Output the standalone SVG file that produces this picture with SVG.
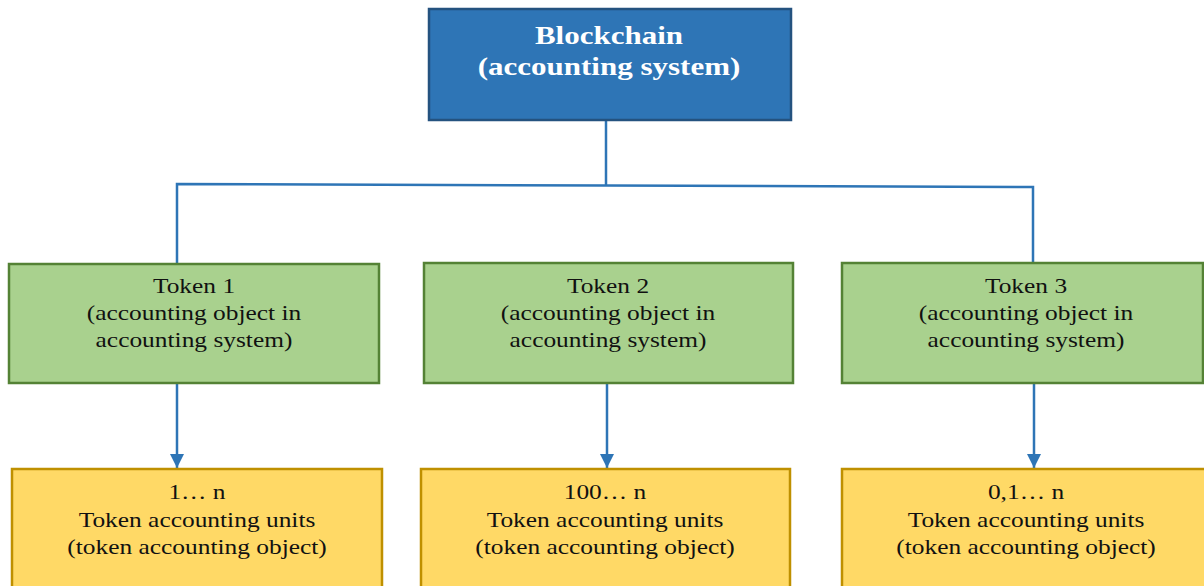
<svg xmlns="http://www.w3.org/2000/svg" width="1204" height="586" viewBox="0 0 1204 586">
  <style>
    .root rect { fill: #2E75B6; stroke: #24527F; stroke-width: 2.5; }
    .token rect { fill: #A9D18E; stroke: #548235; stroke-width: 2.5; }
    .unit rect { fill: #FFD966; stroke: #BF9000; stroke-width: 2.5; }
    text { font-family: "Liberation Serif", "Times New Roman", serif; text-anchor: middle; }
    .root text { font-size: 25px; font-weight: bold; fill: #FFFFFF; }
    .token text, .unit text { font-size: 20.5px; fill: #111111; }
    .wire { fill: none; stroke: #2E75B6; stroke-width: 2.5; }
  </style>
  <defs>
    <marker id="arrow" markerUnits="userSpaceOnUse" markerWidth="16" markerHeight="16" refX="14" refY="8" orient="auto">
      <path d="M0,1 L14,8 L0,15 Z" fill="#2E75B6"/>
    </marker>
  </defs>
  <rect width="1204" height="586" fill="#FFFFFF"/>

  <!-- connectors -->
  <g id="connectors">
    <path class="wire" d="M606,120 L606,186"/>
    <path class="wire" d="M177,264 L177,184 L606,185.5 L1033,187 L1033,263"/>
    <path class="wire" d="M177,383 L177,468" marker-end="url(#arrow)"/>
    <path class="wire" d="M607,383 L607,468" marker-end="url(#arrow)"/>
    <path class="wire" d="M1034,383 L1034,468" marker-end="url(#arrow)"/>
  </g>

  <!-- top level -->
  <g id="blockchain" class="root">
    <rect x="429" y="9" width="362" height="111"/>
    <text transform="matrix(1.24 0 0 1 609 44)">Blockchain</text>
    <text transform="matrix(1.24 0 0 1 609 75)">(accounting system)</text>
  </g>

  <!-- tokens -->
  <g id="token1" class="token">
    <rect x="9" y="264" width="370" height="119"/>
    <text transform="matrix(1.24 0 0 1 194 293)">Token 1</text>
    <text transform="matrix(1.24 0 0 1 194 320)">(accounting object in</text>
    <text transform="matrix(1.24 0 0 1 194 347)">accounting system)</text>
  </g>
  <g id="token2" class="token">
    <rect x="424" y="263" width="369" height="120"/>
    <text transform="matrix(1.24 0 0 1 608 293)">Token 2</text>
    <text transform="matrix(1.24 0 0 1 608 320)">(accounting object in</text>
    <text transform="matrix(1.24 0 0 1 608 347)">accounting system)</text>
  </g>
  <g id="token3" class="token">
    <rect x="842" y="263" width="361" height="120"/>
    <text transform="matrix(1.24 0 0 1 1026 293)">Token 3</text>
    <text transform="matrix(1.24 0 0 1 1026 320)">(accounting object in</text>
    <text transform="matrix(1.24 0 0 1 1026 347)">accounting system)</text>
  </g>

  <!-- accounting units -->
  <g id="units1" class="unit">
    <rect x="12" y="469" width="370" height="130"/>
    <text transform="matrix(1.24 0 0 1 197 499)">1… n</text>
    <text transform="matrix(1.24 0 0 1 197 527)">Token accounting units</text>
    <text transform="matrix(1.24 0 0 1 197 554)">(token accounting object)</text>
  </g>
  <g id="units2" class="unit">
    <rect x="421" y="469" width="369" height="130"/>
    <text transform="matrix(1.24 0 0 1 605 499)">100… n</text>
    <text transform="matrix(1.24 0 0 1 605 527)">Token accounting units</text>
    <text transform="matrix(1.24 0 0 1 605 554)">(token accounting object)</text>
  </g>
  <g id="units3" class="unit">
    <rect x="842" y="469" width="370" height="130"/>
    <text transform="matrix(1.24 0 0 1 1026 499)">0,1… n</text>
    <text transform="matrix(1.24 0 0 1 1026 527)">Token accounting units</text>
    <text transform="matrix(1.24 0 0 1 1026 554)">(token accounting object)</text>
  </g>
</svg>
